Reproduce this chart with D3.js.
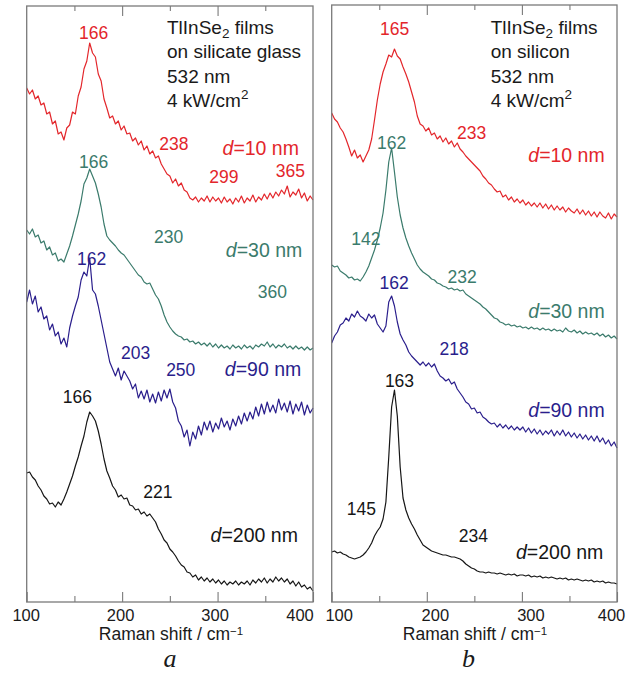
<!DOCTYPE html>
<html><head><meta charset="utf-8">
<script src="https://cdn.jsdelivr.net/npm/d3@7"></script>
<style>
html,body{margin:0;padding:0;background:#fff;}
svg{display:block;}
</style></head><body>
<svg id="chart" width="634" height="673"></svg>
<script>
// ---------- DATA ----------
const ramanShift = [100,103,106,109,112,115,118,121,124,127,130,133,136,139,142,145,148,151,154,157,
160,163,166,169,172,175,178,181,184,187,190,193,196,199,202,205,208,211,214,217,
220,223,226,229,232,235,238,241,244,247,250,253,256,259,262,265,268,271,274,277,
280,283,286,289,292,295,298,301,304,307,310,313,316,319,322,325,328,331,334,337,
340,343,346,349,352,355,358,361,364,367,370,373,376,379,382,385,388,391,394,397,400];

// (a) films on silicate glass, intensity (a.u., offset)
const glass10 = [514,508,512,503,506,497,499,488,490,478,
481,468,470,462,474,477,490,488,506,515,
533,541,559,549,545,528,521,503,494,484,
486,478,481,472,476,468,469,461,464,457,
461,452,456,448,451,444,446,438,433,428,
426,419,423,416,419,412,410,404,402,405,
400,404,401,406,400,405,401,404,399,405,
400,403,398,404,400,406,399,404,401,407,
400,405,402,408,403,409,404,410,406,412,
408,416,405,410,407,413,404,409,401,406,402];
const glass30 = [372,368,373,365,367,359,361,352,355,347,
349,341,343,340,348,356,366,377,388,401,
418,424,433,426,419,408,395,378,366,362,
359,356,352,349,347,343,339,335,331,327,
325,320,318,319,313,307,303,296,287,280,
275,271,268,266,265,262,263,260,261,258,
260,257,259,256,259,255,258,254,257,254,
256,253,257,254,256,253,257,254,256,253,
257,255,258,256,260,255,258,254,257,255,
258,254,256,253,256,253,255,252,255,252,254];
const glass90 = [300,312,298,306,290,295,283,286,272,278,
266,270,258,264,255,274,286,296,305,322,
330,326,344,312,308,296,282,268,254,240,
233,226,234,222,231,226,221,213,218,204,
211,203,212,200,208,199,210,201,212,204,
213,200,194,181,176,165,172,156,170,163,
176,167,180,172,181,170,179,173,184,175,
181,172,183,176,186,178,189,181,190,183,
195,186,198,188,200,190,197,189,203,192,
199,190,201,188,198,191,200,187,197,189,194];
const glass200 = [129,130,125,122,116,112,106,103,98,99,
95,100,97,103,110,118,126,136,145,156,
166,180,190,186,181,171,158,143,131,124,
116,112,105,107,103,104,97,96,92,93,
88,90,86,88,84,80,73,68,62,59,
53,50,46,41,37,35,30,29,25,27,
22,25,21,24,20,23,19,22,18,21,
17,20,18,21,17,20,18,21,17,22,
19,23,20,24,19,23,20,25,21,24,
20,23,18,21,16,20,15,17,13,15,11];

// (b) films on silicon
const silicon10 = [489,483,480,474,470,463,455,446,452,444,
447,440,446,452,463,482,502,518,530,538,
547,545,553,546,543,535,528,520,510,500,
486,478,476,471,474,467,469,463,466,460,
464,458,461,455,459,453,450,446,443,440,
437,434,431,426,423,419,417,413,410,411,
405,407,402,405,400,403,399,402,397,400,
396,399,395,399,394,398,393,397,392,396,
392,395,390,394,391,389,393,388,392,387,
391,386,390,385,390,386,384,389,383,388,385];
const silicon30 = [337,335,336,331,329,327,324,325,322,323,
321,325,330,336,344,352,362,374,389,412,
440,454,430,405,387,374,364,356,349,343,
337,333,330,328,326,323,322,319,318,316,
315,313,314,312,313,311,312,308,306,304,
302,300,298,295,293,290,287,284,283,280,
279,277,278,276,277,275,276,274,275,273,
275,273,274,272,274,272,273,271,273,271,
272,270,274,271,270,272,269,271,268,270,
268,269,267,269,266,268,265,267,264,266,263];
const silicon90 = [259,266,270,277,279,284,281,288,285,291,
286,284,281,288,284,287,278,274,270,276,
300,306,296,280,268,262,257,250,246,243,
240,237,240,236,239,235,238,231,226,224,
221,223,218,220,213,209,205,200,198,193,
194,189,190,185,183,180,178,179,175,178,
174,177,173,176,172,175,172,175,170,174,
169,173,168,172,167,171,168,172,166,171,
167,172,166,170,165,169,164,168,163,167,
162,166,161,166,160,164,158,162,156,160,154];
const silicon200 = [50,51,49,50,48,47,45,44,43,44,
45,47,50,54,59,66,71,75,83,100,
145,195,212,186,135,104,92,84,78,73,
67,62,57,55,53,51,50,49,48,47,
47,46,45,45,44,43,41,38,36,34,
33,31,30,30,29,30,29,29,28,29,
28,27,28,27,28,26,27,27,26,27,
25,26,25,26,24,25,24,25,24,23,
24,23,24,22,23,22,23,22,21,22,
21,22,20,21,20,21,19,20,19,19,18];

const thickness = ["d=10 nm","d=30 nm","d=90 nm","d=200 nm"];
const majorTicks = [100,200,300,400];
const minorTicks = [150,250,350];
const tickLabels = ["100","200","300","400"];
const axisTitle = "Raman shift / cm";

// peak annotations: text, shift, intensity, series index
const glassNotes = [
  ["166",170.2,563,0],["238",254.2,452,0],["299",306.6,419,0],["365",376.2,425,0],
  ["166",170.2,434,1],["230",248.7,359,1],["360",357.4,304,1],
  ["162",168.1,337,2],["203",214.1,243,2],["250",261.4,226,2],
  ["166",153.2,199,3],["221",237.5,104,3]
];
const glassThick = [[305.2,447],[308.7,345],[307.6,226],[292.7,60]];
const siliconNotes = [
  ["165",166.2,567,0],["233",247.2,463,0],
  ["162",163.1,453,1],["142",135.9,357,1],["232",237.2,319,1],
  ["162",165.7,313,2],["218",228.8,247,2],
  ["163",171.3,215,3],["145",131.1,87,3],["234",248.9,60,3]
];
const siliconThick = [[306.7,440],[306.7,284],[306.7,185],[293.8,43]];

// ---------- STYLE / LAYOUT ----------
const SANS = '"Liberation Sans",Arial,Helvetica,sans-serif';
const SERIF = '"Liberation Serif","Times New Roman",serif';
const colors = ["#e3262b","#3b7b6c","#2a1e8c","#161616"];
const svg = d3.select("#chart").style("font-family", SANS);
const yTop = 2, yBot = 602;
const y = d3.scaleLinear().domain([0,600]).range([yBot, yTop]);

const panels = [
  {x0:26.7, x1:313, top:6, series:[glass10,glass30,glass90,glass200], notes:glassNotes, thick:glassThick,
   header:["on silicate glass"], hx:167, letter:"a", letterX:170, labelDx:[-1,-2,-3,-13.5], titleX:171},
  {x0:331.7, x1:617, top:5, series:[silicon10,silicon30,silicon90,silicon200], notes:siliconNotes, thick:siliconThick,
   header:["on silicon"], hx:490.7, letter:"b", letterX:468.5, labelDx:[7,8,8.5,-6], titleX:475}
];

const frameColor = "#7a7a7a";
const textColor = "#1a1a1a";

panels.forEach(p => {
  const x = d3.scaleLinear().domain([100,400]).range([p.x0, p.x1]);
  const g = svg.append("g");

  // curves
  const line = d3.line().x(d => x(d[0])).y(d => y(d[1]));
  p.series.forEach((s, i) => {
    g.append("path")
      .datum(ramanShift.map((r, k) => [r, s[k]]))
      .attr("d", line)
      .attr("fill", "none")
      .attr("stroke", colors[i])
      .attr("stroke-width", 1.2)
      .attr("stroke-linejoin", "round");
  });

  // bottom axis major ticks + labels
  const bMaj = g.append("g").attr("transform", `translate(0,${yBot})`)
    .call(d3.axisBottom(x).tickValues(majorTicks).tickSizeInner(-10).tickSizeOuter(0)
      .tickPadding(7.5).tickFormat((d,i) => tickLabels[i]));
  bMaj.select(".domain").remove();
  bMaj.attr("font-family", SANS);
  bMaj.selectAll("line").attr("stroke", frameColor).attr("stroke-width", 1.1);
  bMaj.selectAll("text").attr("font-size", 16.5).attr("fill", textColor)
    .attr("dx", (d,i) => p.labelDx[i]);
  const bMin = g.append("g").attr("transform", `translate(0,${yBot})`)
    .call(d3.axisBottom(x).tickValues(minorTicks).tickSizeInner(-6).tickSizeOuter(0).tickFormat(""));
  bMin.select(".domain").remove();
  bMin.selectAll("line").attr("stroke", frameColor).attr("stroke-width", 1.1);

  // top axis ticks (inward)
  const tMaj = g.append("g").attr("transform", `translate(0,${p.top})`)
    .call(d3.axisTop(x).tickValues([200,300]).tickSizeInner(-10).tickSizeOuter(0).tickFormat(""));
  tMaj.select(".domain").remove();
  tMaj.selectAll("line").attr("stroke", frameColor).attr("stroke-width", 1.1);
  const tMin = g.append("g").attr("transform", `translate(0,${p.top})`)
    .call(d3.axisTop(x).tickValues(minorTicks).tickSizeInner(-5).tickSizeOuter(0).tickFormat(""));
  tMin.select(".domain").remove();
  tMin.selectAll("line").attr("stroke", frameColor).attr("stroke-width", 1.1);

  // frame
  g.append("rect").attr("x", p.x0).attr("y", p.top)
    .attr("width", p.x1 - p.x0).attr("height", yBot - p.top)
    .attr("fill", "none").attr("stroke", frameColor).attr("stroke-width", 1.3);

  // axis title
  const t = g.append("text").attr("x", p.titleX).attr("y", 640)
    .attr("text-anchor", "middle").attr("font-size", 17.5).attr("fill", textColor);
  t.append("tspan").text(axisTitle);
  t.append("tspan").attr("dy", -5).attr("font-size", 11.5).text("\u22121");

  // panel letter
  g.append("text").attr("x", p.letterX).attr("y", 667).attr("text-anchor", "middle")
    .style("font-family", SERIF)
    .attr("font-style", "italic").attr("font-size", 26).attr("fill", textColor).text(p.letter);

  // header block
  const hs = 19;
  const h1 = g.append("text").attr("x", p.hx).attr("y", 34).attr("font-size", hs).attr("fill", textColor);
  h1.append("tspan").text("TlInSe");
  h1.append("tspan").attr("dy", 3.5).attr("font-size", 13.5).text("2");
  h1.append("tspan").attr("dy", -3.5).text(" films");
  g.append("text").attr("x", p.hx).attr("y", 57.5).attr("font-size", hs).attr("fill", textColor).text(p.header[0]);
  g.append("text").attr("x", p.hx).attr("y", 83).attr("font-size", hs).attr("fill", textColor).text("532 nm");
  const h4 = g.append("text").attr("x", p.hx).attr("y", 107).attr("font-size", hs).attr("fill", textColor);
  h4.append("tspan").text("4 kW/cm");
  h4.append("tspan").attr("dy", -8).attr("font-size", 13.5).text("2");

  // peak notes
  p.notes.forEach(n => {
    g.append("text").attr("x", x(n[1])).attr("y", y(n[2])).attr("text-anchor", "middle")
      .attr("font-size", 17.5).attr("fill", colors[n[3]]).text(n[0]);
  });
  // thickness labels
  p.thick.forEach((tpos, i) => {
    const tt = g.append("text").attr("x", x(tpos[0])).attr("y", y(tpos[1]))
      .attr("font-size", 19.5).attr("fill", colors[i]);
    tt.append("tspan").attr("font-style", "italic").text(thickness[i].slice(0,1));
    tt.append("tspan").text(thickness[i].slice(1));
  });
});
</script>
</body></html>
